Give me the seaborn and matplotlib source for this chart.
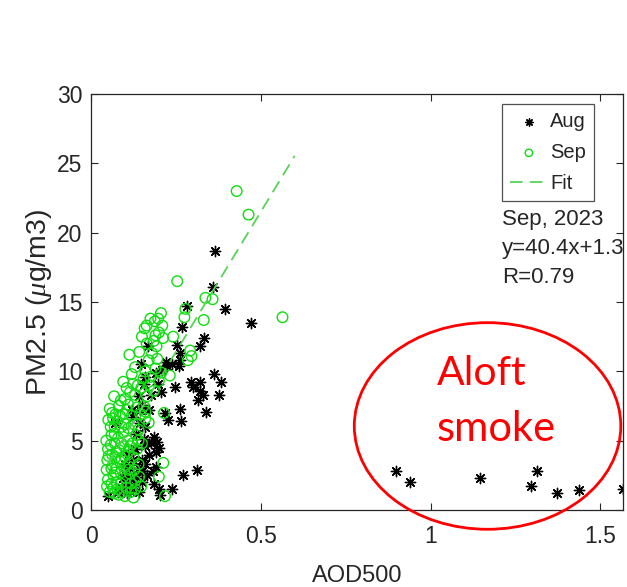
import numpy as np
import pandas as pd
import matplotlib
matplotlib.use("Agg")
import matplotlib.pyplot as plt
from matplotlib.patches import Ellipse
import seaborn as sns

# --- data: AOD at 500 nm vs surface PM2.5 ---
aug_aod = [0.365, 0.358, 0.282, 0.394, 0.471, 0.268, 0.332, 0.322, 0.254, 0.262,
           0.262, 0.258, 0.169, 0.146, 0.220, 0.225, 0.240, 0.160, 0.362, 0.382,
           0.295, 0.322, 0.300, 0.322, 0.315, 0.330, 0.377, 0.247, 0.205, 0.198,
           0.176, 0.338, 0.262, 0.265, 0.228, 0.218, 0.170, 0.150, 0.145, 0.120,
           0.134, 0.178, 0.195, 0.190, 0.170, 0.200, 0.160, 0.311, 0.270, 0.240,
           0.200, 0.203, 0.190, 0.183, 0.049, 0.105, 0.128, 0.118, 0.135, 0.090,
           0.070, 0.125, 0.140, 0.150, 0.130, 0.155, 0.110, 0.100, 0.145, 0.160,
           0.125, 0.150, 0.165, 0.140, 0.115,
           0.100, 0.115, 0.160, 0.185, 0.150, 0.110, 0.095, 0.080, 0.185, 0.140,
           0.155, 0.190, 0.210,
           0.899, 0.940, 1.147, 1.313, 1.297, 1.374, 1.438, 1.567]
aug_pm = [18.7, 16.1, 14.7, 14.5, 13.5, 13.2, 12.4, 11.8, 11.9, 11.3,
          10.8, 10.4, 11.8, 10.5, 10.7, 10.4, 10.5, 9.6, 9.8, 9.25,
          9.2, 9.2, 8.9, 8.6, 7.9, 8.3, 8.3, 8.9, 8.5, 9.1,
          8.3, 7.1, 7.3, 6.4, 6.5, 7.0, 7.2, 7.6, 7.2, 7.2,
          5.5, 4.8, 4.9, 4.2, 4.0, 4.5, 4.6, 2.9, 2.5, 1.55,
          1.55, 1.1, 3.1, 2.8, 1.0, 1.2, 1.7, 2.2, 2.4, 1.6,
          6.3, 3.6, 3.0, 3.6, 4.4, 5.1, 4.0, 2.6, 6.3, 6.0,
          6.7, 2.0, 2.5, 1.3, 1.4,
          3.3, 3.0, 3.3, 5.3, 2.8, 1.9, 2.3, 1.3, 1.9, 8.2,
          9.1, 9.9, 10.1,
          2.8, 2.0, 2.3, 2.8, 1.75, 1.2, 1.45, 1.55]

sep_aod = [0.429, 0.464, 0.564, 0.254, 0.337, 0.358, 0.332, 0.275, 0.278, 0.206,
           0.198, 0.188, 0.210, 0.164, 0.200, 0.190, 0.212, 0.242, 0.113, 0.164,
           0.193, 0.292, 0.296, 0.285, 0.232, 0.207, 0.190, 0.095, 0.124, 0.175,
           0.172, 0.185, 0.165, 0.068, 0.088, 0.130, 0.110, 0.215, 0.160, 0.051,
           0.072, 0.070, 0.100, 0.125, 0.140, 0.213, 0.200, 0.218, 0.150,
           0.045, 0.050, 0.048, 0.046, 0.050, 0.047, 0.055, 0.060, 0.062, 0.064,
           0.066, 0.060, 0.070, 0.072, 0.075, 0.075, 0.078, 0.080, 0.083, 0.085,
           0.087, 0.088, 0.092, 0.095, 0.097, 0.098, 0.100, 0.102, 0.105, 0.108,
           0.110, 0.112, 0.115, 0.118, 0.120, 0.122, 0.125, 0.128, 0.130, 0.133,
           0.136, 0.140, 0.142, 0.145, 0.148, 0.055, 0.065, 0.085, 0.105, 0.115,
           0.135, 0.155, 0.148, 0.160, 0.170, 0.180, 0.155, 0.110, 0.090, 0.058,
           0.052, 0.068, 0.082, 0.100, 0.118, 0.125,
           0.058, 0.062, 0.070, 0.078, 0.082, 0.095, 0.100, 0.105, 0.120, 0.130,
           0.138, 0.142, 0.150, 0.158, 0.175, 0.185, 0.195, 0.200, 0.160, 0.170,
           0.060, 0.070, 0.090, 0.110, 0.130, 0.090, 0.075, 0.065, 0.115, 0.140]
sep_pm = [23.0, 21.3, 13.9, 16.5, 15.3, 15.2, 13.7, 13.9, 14.5, 14.2,
          13.8, 13.6, 13.3, 13.3, 12.8, 12.6, 12.4, 12.5, 11.2, 12.0,
          11.8, 11.5, 11.1, 10.8, 9.7, 9.9, 10.2, 9.25, 9.1, 9.6,
          9.0, 8.6, 8.2, 8.2, 7.9, 8.3, 7.6, 7.0, 6.6, 6.5,
          6.9, 6.0, 6.2, 6.2, 5.8, 3.4, 2.4, 1.0, 4.8,
          5.0, 4.4, 3.6, 2.9, 2.2, 1.7, 1.3, 5.4, 4.0, 3.2,
          2.5, 1.9, 4.8, 3.8, 3.0, 2.0, 1.5, 5.2, 4.3, 3.5,
          2.7, 1.9, 1.3, 5.6, 4.6, 3.9, 3.1, 2.3, 1.6, 5.0,
          4.2, 3.4, 2.6, 1.9, 6.8, 4.8, 3.8, 2.9, 2.1, 5.4,
          4.4, 3.3, 2.4, 6.9, 1.7, 7.3, 6.6, 6.8, 7.2, 8.5,
          7.4, 7.5, 8.8, 10.0, 10.8, 11.3, 9.5, 5.9, 6.0, 4.7,
          3.9, 1.2, 1.1, 1.0, 1.3, 0.9,
          6.0, 7.0, 5.5, 6.4, 7.5, 6.9, 8.0, 8.8, 9.8, 10.3,
          9.0, 11.4, 12.5, 13.1, 13.8, 12.2, 10.9, 9.3, 7.1, 6.3,
          3.0, 2.7, 3.7, 2.9, 1.5, 4.8, 4.2, 1.6, 4.6, 5.0]

# Linear fit reported for September
fit_slope = 40.4
fit_intercept = 1.3
fit_r = 0.79
fit_range = [0.05, 0.60]

x_ticks = [0, 0.5, 1, 1.5]
x_tick_labels = ["0", "0.5", "1", "1.5"]
y_ticks = [0, 5, 10, 15, 20, 25, 30]

aug = pd.DataFrame({"AOD500": aug_aod, "PM25": aug_pm})
sep = pd.DataFrame({"AOD500": sep_aod, "PM25": sep_pm})
fit_x = np.array(fit_range)
fit = pd.DataFrame({"AOD500": fit_x, "PM25": fit_slope * fit_x + fit_intercept})

sns.set_theme(style="ticks")
plt.rcParams["font.family"] = ["Liberation Sans", "DejaVu Sans"]
plt.rcParams["mathtext.fontset"] = "custom"
plt.rcParams["mathtext.it"] = "Liberation Serif:italic"
plt.rcParams["mathtext.rm"] = "Liberation Sans"

dark = "#262626"
green = "#10dd10"

fig = plt.figure(figsize=(6.27, 5.87), dpi=100)
ax = fig.add_axes([91 / 627, 1 - 510 / 587, 532 / 627, 416 / 587])

asterisk = (8, 2, 0)
sns.scatterplot(data=aug, x="AOD500", y="PM25", marker=asterisk, color="black",
                s=55, linewidth=1.0, label="Aug", ax=ax, zorder=2)
sns.scatterplot(data=sep, x="AOD500", y="PM25", marker="o", color=green,
                facecolor="none", edgecolor=green, s=58, linewidth=1.0,
                label="Sep", ax=ax, zorder=3)
sns.lineplot(data=fit, x="AOD500", y="PM25", color="#55d455", linewidth=1.3,
             linestyle=(0, (7, 4)), label="Fit", ax=ax, zorder=4)

ax.set_xlim(0, 1.567)
ax.set_ylim(0, 30)
ax.set_xticks(x_ticks)
ax.set_xticklabels(x_tick_labels)
ax.set_yticks(y_ticks)
ax.tick_params(direction="in", length=5, width=0.8, top=True, right=True,
               labelsize=16.5, colors=dark)
ax.tick_params(axis="x", pad=11)
ax.tick_params(axis="y", pad=6)
for sp in ax.spines.values():
    sp.set_visible(True)
    sp.set_color(dark)
    sp.set_linewidth(0.9)

ax.set_xlabel("AOD500", fontsize=17, color=dark, labelpad=12)
ax.set_ylabel(r"PM2.5 ($\mu$g/m3)", fontsize=20.5, color=dark, labelpad=2)

leg = ax.legend(loc="upper left", bbox_to_anchor=(0.772, 0.976), borderaxespad=0,
                fontsize=14.5, frameon=True, fancybox=False, handlelength=1.9,
                handletextpad=0.1, labelspacing=0.6, borderpad=0.4,
                markerscale=0.7)
leg.get_frame().set_edgecolor(dark)
leg.get_frame().set_linewidth(0.9)
for t in leg.get_texts():
    t.set_color(dark)

for i, line in enumerate(["Sep, 2023", f"y={fit_slope}x+{fit_intercept}", f"R={fit_r}"]):
    ax.text(0.772, 0.685 - i * 0.0697, line, transform=ax.transAxes,
            fontsize=16, color=dark, ha="left", va="baseline")

# aloft smoke cases highlighted
ax.add_patch(Ellipse((1.168, 6.06), 0.785, 14.9, fill=False, edgecolor="red",
                     linewidth=2.0, clip_on=False, zorder=5))
ax.text(1.018, 9.0, "Aloft", color="red", fontsize=29.5, family="Lato",
        ha="left", va="baseline")
ax.text(1.018, 4.95, "smoke", color="red", fontsize=30, family="Lato",
        ha="left", va="baseline")

fig.savefig("out.png", dpi=100)
